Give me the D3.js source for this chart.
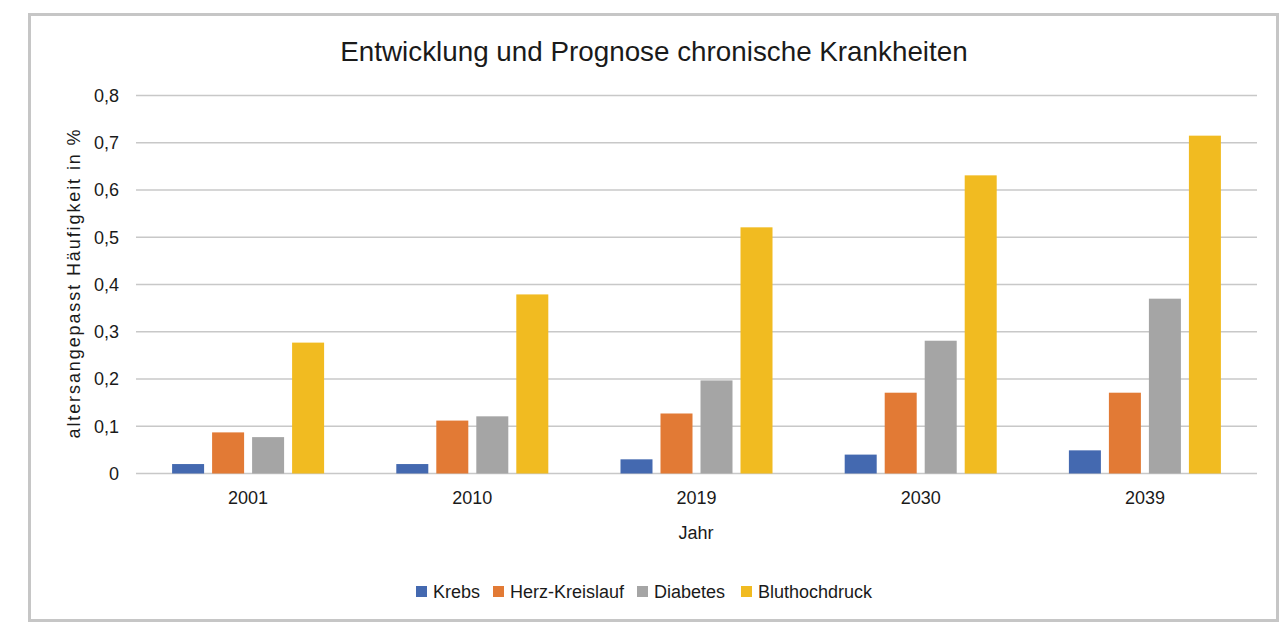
<!DOCTYPE html>
<html>
<head>
<meta charset="utf-8">
<script src="https://cdn.jsdelivr.net/npm/d3@7"></script>
<style>
  body { margin: 0; background: #fff; }
  text { font-family: "Liberation Sans", Arial, Helvetica, sans-serif; fill: #1a1a1a; }
</style>
</head>
<body>
<svg id="chart" width="1284" height="623"></svg>
<script>
// daten
const jahre = ["2001", "2010", "2019", "2030", "2039"];
const serien = ["Krebs", "Herz-Kreislauf", "Diabetes", "Bluthochdruck"];
const krebs = [0.02, 0.02, 0.03, 0.04, 0.049];
const herzKreislauf = [0.087, 0.112, 0.127, 0.171, 0.171];
const diabetes = [0.077, 0.121, 0.197, 0.281, 0.37];
const bluthochdruck = [0.277, 0.379, 0.521, 0.631, 0.715];
const yTicks = [0, 0.1, 0.2, 0.3, 0.4, 0.5, 0.6, 0.7, 0.8];
const farben = ["#4469b0", "#e27a35", "#a5a5a5", "#f1bb21"];

const werte = [krebs, herzKreislauf, diabetes, bluthochdruck];
const data = jahre.map((j, i) => ({
  jahr: j,
  values: serien.map((s, k) => ({ serie: s, value: werte[k][i] })),
}));

const svg = d3.select("#chart");

// rahmen
svg.append("rect")
  .attr("x", 29.5).attr("y", 14.5)
  .attr("width", 1248).attr("height", 606)
  .attr("fill", "#fff")
  .attr("stroke", "#c6c6c6")
  .attr("stroke-width", 3);

const plot = { left: 136, right: 1257, top: 95.5, bottom: 473.5 };

const y = d3.scaleLinear().domain([0, 0.8]).range([plot.bottom, plot.top]);

const x0 = d3.scaleBand()
  .domain(jahre)
  .range([plot.left, plot.right])
  .paddingInner(0.322)
  .paddingOuter(0.161);

const x1 = d3.scaleBand()
  .domain(serien)
  .range([0, x0.bandwidth()])
  .paddingInner(0.2);

const color = d3.scaleOrdinal().domain(serien).range(farben);

/** GRID **/
svg.append("g")
  .selectAll("line")
  .data(yTicks)
  .join("line")
  .attr("x1", plot.left)
  .attr("x2", plot.right)
  .attr("y1", (d) => y(d))
  .attr("y2", (d) => y(d))
  .attr("stroke", "#c8c8c8")
  .attr("stroke-width", 1.5);

// y achse
const yAxis = d3.axisLeft(y)
  .tickValues(yTicks)
  .tickSize(0)
  .tickPadding(17)
  .tickFormat((d) => (d === 0 ? "0" : d3.format(".1f")(d).replace(".", ",")));

svg.append("g")
  .attr("transform", `translate(${plot.left},0)`)
  .call(yAxis)
  .call((g) => g.select(".domain").remove())
  .selectAll("text")
  .style("font-size", "18px")
  .attr("fill", "#1a1a1a");

// x achse
const xAxis = d3.axisBottom(x0).tickSize(0).tickPadding(18);
svg.append("g")
  .attr("transform", `translate(0,${plot.bottom})`)
  .call(xAxis)
  .call((g) => g.select(".domain").remove())
  .selectAll("text")
  .style("font-size", "18px")
  .attr("fill", "#1a1a1a");

/** BARS **/
svg.append("g")
  .selectAll("g")
  .data(data)
  .join("g")
  .attr("transform", (d) => `translate(${x0(d.jahr)},0)`)
  .selectAll("rect")
  .data((d) => d.values)
  .join("rect")
  .attr("x", (d) => x1(d.serie))
  .attr("width", x1.bandwidth())
  .attr("y", (d) => y(d.value))
  .attr("height", (d) => y(0) - y(d.value))
  .attr("fill", (d) => color(d.serie));

// titel
svg.append("text")
  .attr("x", 654)
  .attr("y", 61)
  .attr("text-anchor", "middle")
  .style("font-size", "27.8px")
  .text("Entwicklung und Prognose chronische Krankheiten");

svg.append("text")
  .attr("x", 696)
  .attr("y", 539)
  .attr("text-anchor", "middle")
  .style("font-size", "18px")
  .text("Jahr");

svg.append("text")
  .attr("transform", "translate(80,283) rotate(-90)")
  .attr("text-anchor", "middle")
  .style("font-size", "18px")
  .style("letter-spacing", "1.9px")
  .text("altersangepasst Häufigkeit in %");

/** LEGENDE **/
const legendX = [416, 493, 637, 741];
const legend = svg.append("g")
  .selectAll("g")
  .data(serien)
  .join("g")
  .attr("transform", (d, i) => `translate(${legendX[i]},586)`);

legend.append("rect")
  .attr("width", 11)
  .attr("height", 11)
  .attr("fill", (d) => color(d));

legend.append("text")
  .attr("x", 17)
  .attr("y", 11.5)
  .style("font-size", "18px")
  .text((d) => d);
</script>
</body>
</html>
